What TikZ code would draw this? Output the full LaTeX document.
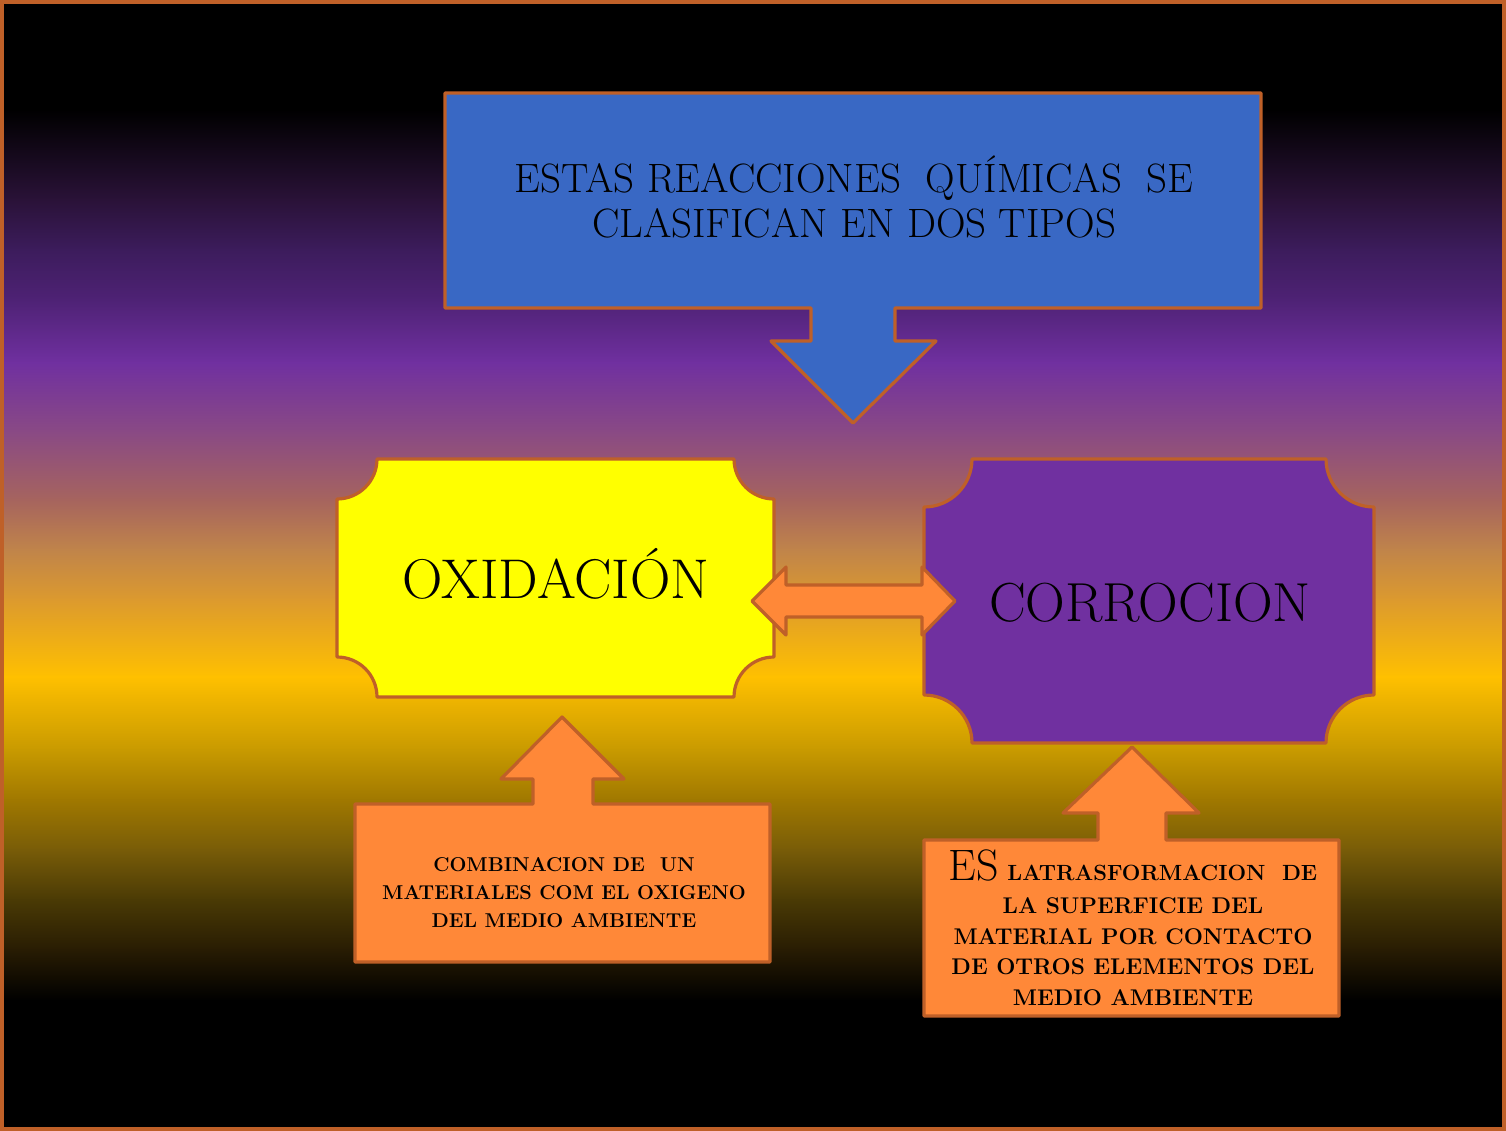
\documentclass[tikz,border=0pt]{standalone}
\usepackage{fontspec}
\definecolor{frameC}{HTML}{BF6028}
\definecolor{blueC}{HTML}{3968C4}
\definecolor{yellowC}{HTML}{FFFF00}
\definecolor{purpleC}{HTML}{7030A0}
\definecolor{orangeC}{HTML}{FF8838}
\definecolor{g0}{HTML}{000000}
\definecolor{g1}{HTML}{2A1238}
\definecolor{g2}{HTML}{3C1C5C}
\definecolor{g3}{HTML}{4E2275}
\definecolor{g4}{HTML}{7030A0}
\definecolor{g5}{HTML}{8A4A84}
\definecolor{g6}{HTML}{A6645E}
\definecolor{g7}{HTML}{C0844A}
\definecolor{g8}{HTML}{DC9A2E}
\definecolor{g9}{HTML}{FFC000}
\definecolor{g10}{HTML}{C89A00}
\definecolor{g11}{HTML}{A07800}
\definecolor{g12}{HTML}{785C08}
\definecolor{g13}{HTML}{4A3A05}
\definecolor{g14}{HTML}{281C03}
\newcommand\bgband[4]{\fill[top color=#3,bottom color=#4] (0,#1-0.5) rectangle (1506,#2+0.5);}
\newcommand\plaque[6]{%
  \draw[#1] (#2+#6,#3) -- (#4-#6,#3)
    .. controls (#4-#6,#3+0.5523*#6) and (#4-0.5523*#6,#3+#6) .. (#4,#3+#6)
    -- (#4,#5-#6)
    .. controls (#4-0.5523*#6,#5-#6) and (#4-#6,#5-0.5523*#6) .. (#4-#6,#5)
    -- (#2+#6,#5)
    .. controls (#2+#6,#5-0.5523*#6) and (#2+0.5523*#6,#5-#6) .. (#2,#5-#6)
    -- (#2,#3+#6)
    .. controls (#2+0.5523*#6,#3+#6) and (#2+#6,#3+0.5523*#6) .. (#2+#6,#3)
    -- cycle;}
\begin{document}
\begin{tikzpicture}[x=1pt,y=-1pt,
  shapeline/.style={draw=frameC,line width=3.2pt,line join=round},
  lbl/.style={inner sep=0pt,align=center,text=black}]
\useasboundingbox (0,0) rectangle (1506,1131);
% background
\fill[g0] (0,0) rectangle (1506,110);
\bgband{110}{200}{g0}{g1}
\bgband{200}{250}{g1}{g2}
\bgband{250}{300}{g2}{g3}
\bgband{300}{363}{g3}{g4}
\bgband{363}{433}{g4}{g5}
\bgband{433}{500}{g5}{g6}
\bgband{500}{550}{g6}{g7}
\bgband{550}{600}{g7}{g8}
\bgband{600}{677}{g8}{g9}
\bgband{677}{750}{g9}{g10}
\bgband{750}{800}{g10}{g11}
\bgband{800}{850}{g11}{g12}
\bgband{850}{900}{g12}{g13}
\bgband{900}{950}{g13}{g14}
\bgband{950}{1000}{g14}{g0}
\fill[g0] (0,1000) rectangle (1506,1131);
\draw[frameC,line width=4pt] (2,2) rectangle (1503.5,1128.5);
% top box with down arrow
\draw[shapeline,fill=blueC] (445,93) -- (1261,93) -- (1261,308) -- (895,308) -- (895,341)
  -- (936,341) -- (853,423) -- (771,341) -- (811,341) -- (811,308) -- (445,308) -- cycle;
% plaques
\plaque{shapeline,fill=yellowC}{337}{459}{774}{697}{40}
\plaque{shapeline,fill=purpleC}{924}{459}{1374}{743}{48}
% double arrow
\draw[shapeline,fill=orangeC] (752,601) -- (786,567) -- (786,585) -- (922,585) -- (922,567)
  -- (955,601) -- (922,635) -- (922,617) -- (786,617) -- (786,635) -- cycle;
% callouts
\draw[shapeline,fill=orangeC] (355,804) -- (533,804) -- (533,779) -- (501,779) -- (562,717)
  -- (624,779) -- (593,779) -- (593,804) -- (770,804) -- (770,962) -- (355,962) -- cycle;
\draw[shapeline,fill=orangeC] (924,840) -- (1098,840) -- (1098,813) -- (1063,813) -- (1132,747)
  -- (1199,813) -- (1166,813) -- (1166,840) -- (1339,840) -- (1339,1016) -- (924,1016) -- cycle;
% texts
\node[lbl,anchor=base,font=\fontsize{41}{45}\selectfont] (title) at (854,238)
  {ESTAS REACCIONES\ \ QUÍMICAS\ \ SE\\CLASIFICAN EN DOS TIPOS};
\node[lbl,anchor=base,font=\fontsize{56}{60}\selectfont] (oxi) at (556,598) {OXIDACIÓN};
\node[lbl,anchor=base,font=\fontsize{55}{60}\selectfont] (corr) at (1150,621) {CORROCION};
\node[lbl,anchor=base,font=\bfseries\fontsize{20}{28}\selectfont] (oxidef) at (564,927)
  {COMBINACION DE\ \ UN\\MATERIALES COM EL OXIGENO\\DEL MEDIO AMBIENTE};
\node[lbl,anchor=base,font=\bfseries\fontsize{22.7}{30.5}\selectfont] (corrdef) at (1133,1005)
  {{\mdseries\fontsize{44}{30.5}\selectfont ES} {\fontsize{22}{30.5}\selectfont LATRASFORMACION\ \ DE}\\[2.5pt]
   LA SUPERFICIE DEL\\MATERIAL POR CONTACTO\\DE OTROS ELEMENTOS DEL\\MEDIO AMBIENTE};
\end{tikzpicture}
\end{document}
